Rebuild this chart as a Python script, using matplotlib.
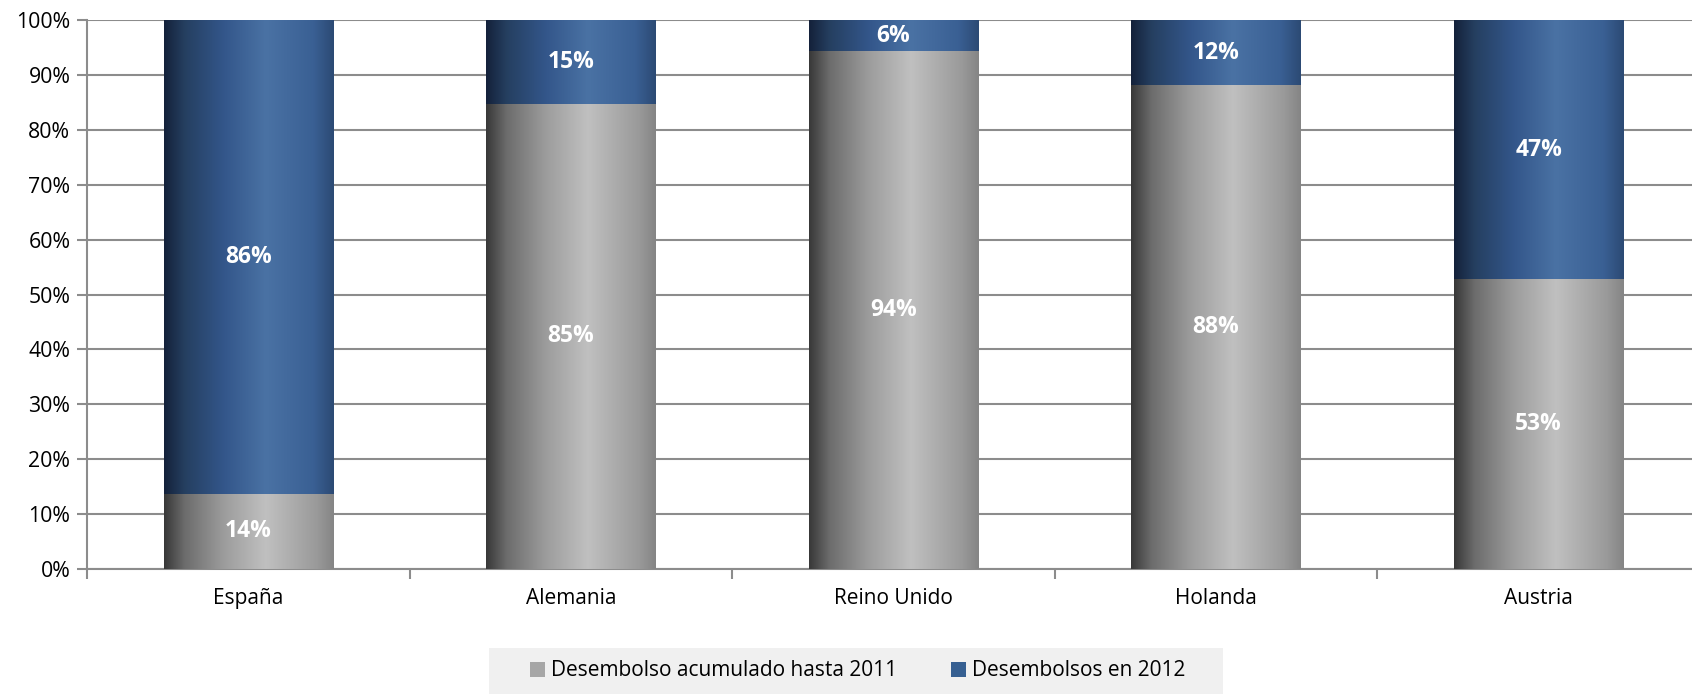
import numpy as np
import matplotlib
matplotlib.use('Agg')
from matplotlib import pyplot as plt
from matplotlib.colors import LinearSegmentedColormap
from matplotlib.patches import Rectangle, Patch

plt.rcParams['font.family'] = ['Open Sans', 'DejaVu Sans']

paises = ['España', 'Alemania', 'Reino Unido', 'Holanda', 'Austria']
hasta_2011 = [13.6, 84.8, 94.4, 88.3, 52.8]
en_2012 = [86.4, 15.2, 5.6, 11.7, 47.2]
series_names = ['Desembolso acumulado hasta 2011', 'Desembolsos en 2012']

gris = LinearSegmentedColormap.from_list('gris', [
    (0.0, '#383838'), (0.12, '#6c6c6c'), (0.35, '#9c9c9c'),
    (0.6, '#c0c0c0'), (0.9, '#9a9a9a'), (1.0, '#858585')])
azul = LinearSegmentedColormap.from_list('azul', [
    (0.0, '#14213a'), (0.12, '#253f60'), (0.35, '#33568a'),
    (0.6, '#4a72a4'), (0.88, '#3a6094'), (1.0, '#2c4a74')])


def gradient_bar(ax, x, bottom, height, width, cmap):
    grad = np.linspace(0, 1, 256).reshape(1, -1)
    ax.imshow(grad, extent=[x - width / 2, x + width / 2, bottom, bottom + height],
              aspect='auto', cmap=cmap, interpolation='bicubic', zorder=3)


def main():
    fig = plt.figure(figsize=(16.92, 6.94), dpi=100)
    ax = fig.add_axes([87 / 1692, 0.1807, (1700 - 87) / 1692, 0.9705 - 0.1807])

    width = 0.525
    ind = np.arange(len(paises))
    for i in ind:
        gradient_bar(ax, i, 0, hasta_2011[i], width, gris)
        gradient_bar(ax, i, hasta_2011[i], en_2012[i], width, azul)
        ax.text(i, hasta_2011[i] / 2, '%.0f%%' % hasta_2011[i], ha='center', va='center',
                color='white', fontsize=16.5, fontweight='bold', zorder=5)
        ax.text(i, hasta_2011[i] + en_2012[i] / 2, '%.0f%%' % en_2012[i], ha='center',
                va='center', color='white', fontsize=16.5, fontweight='bold', zorder=5)

    ax.set_xlim(-0.5, len(paises) - 0.5)
    ax.set_ylim(0, 100)
    ax.set_yticks(np.arange(0, 101, 10))
    ax.set_yticklabels(['%d%%' % v for v in range(0, 101, 10)], fontsize=15.3)
    ax.set_xticks(ind)
    ax.set_xticklabels(paises, fontsize=15)
    ax.set_xticks(np.arange(-0.5, len(paises), 1), minor=True)
    ax.tick_params(axis='x', which='major', length=0, pad=14)
    ax.tick_params(axis='x', which='minor', length=7, width=1.5, color='#8c8c8c')
    ax.tick_params(axis='y', length=7, width=1.5, color='#8c8c8c', pad=5)
    ax.grid(axis='y', color='#8c8c8c', linewidth=1.5, zorder=1)
    ax.set_axisbelow(True)
    for s in ['top', 'right']:
        ax.spines[s].set_visible(False)
    for s in ['left', 'bottom']:
        ax.spines[s].set_color('#8c8c8c')
        ax.spines[s].set_linewidth(1.5)

    # legend box
    fig.patches.append(Rectangle((489 / 1692, 0), 734 / 1692, 46 / 694,
                                 transform=fig.transFigure, facecolor='#f0f0f0',
                                 edgecolor='none', zorder=0))
    handles = [Patch(facecolor='#a6a6a6'), Patch(facecolor='#365f91')]
    fig.legend(handles, series_names, loc='center', bbox_to_anchor=(858 / 1692, 23 / 694),
               ncol=2, frameon=False, fontsize=15, handlelength=0.7, handleheight=0.7,
               handletextpad=0.3, columnspacing=2.6)

    fig.savefig('out.png', dpi=100)


if __name__ == '__main__': main()
